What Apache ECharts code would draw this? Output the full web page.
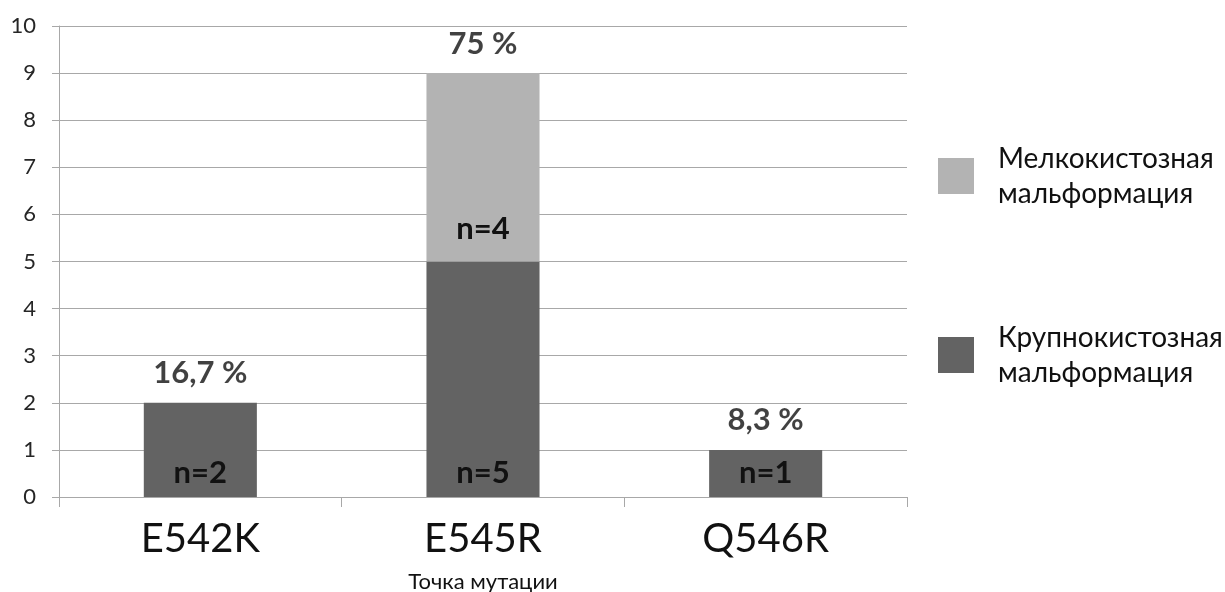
<!DOCTYPE html>
<html>
<head>
<meta charset="utf-8">
<script src="https://cdn.jsdelivr.net/npm/echarts@6/dist/echarts.min.js"></script>
<style>
  html, body { margin: 0; padding: 0; background: #fff; }
  #chart { width: 1225px; height: 592px; }
</style>
</head>
<body>
<div id="chart"></div>
<script>
// Mutation points and counts per malformation type
const categories = ['E542K', 'E545R', 'Q546R'];
const largeCystic = [2, 5, 1];   // Крупнокистозная мальформация
const smallCystic = [0, 4, 0];   // Мелкокистозная мальформация
const shareLabels = ['16,7 %', '75 %', '8,3 %'];
const yTicks = [0, 10, 1];       // min, max, interval

const totals = categories.map((_, i) => largeCystic[i] + smallCystic[i]);

const FONT = 'Lato, "Open Sans", sans-serif';
const DARK = '#636363';
const LIGHT = '#b3b3b3';
const GRID = '#a8a8a8';
const INK = '#111111';

const countLabel = {
  show: true,
  position: 'insideBottom',
  distance: 9,
  fontFamily: FONT,
  fontSize: 31,
  fontWeight: 'bold',
  color: INK,
  formatter: p => p.value > 0 ? 'n=' + p.value : ''
};

const chart = echarts.init(document.getElementById('chart'));
chart.setOption({
  animation: false,
  textStyle: { fontFamily: FONT },
  grid: { left: 59, right: 318, top: 26, bottom: 95, outerBoundsMode: 'none' },
  legend: {
    orient: 'vertical',
    left: 938,
    top: 141,
    padding: 0,
    itemGap: 109,
    itemWidth: 36,
    itemHeight: 36,
    icon: 'rect',
    data: ['Мелкокистозная\nмальформация', 'Крупнокистозная\nмальформация'],
    textStyle: {
      fontFamily: FONT,
      fontSize: 28,
      color: INK,
      lineHeight: 35,
      padding: [0, 0, 0, 19]
    }
  },
  xAxis: {
    type: 'category',
    data: categories,
    name: 'Точка мутации',
    nameLocation: 'middle',
    nameGap: 74,
    nameTextStyle: { fontFamily: FONT, fontSize: 22, color: INK },
    axisLine: { lineStyle: { color: GRID, width: 1 } },
    axisTick: { show: true, length: 10, lineStyle: { color: GRID } },
    axisLabel: { fontFamily: FONT, fontSize: 40, color: INK, margin: 22 }
  },
  yAxis: {
    type: 'value',
    min: yTicks[0],
    max: yTicks[1],
    interval: yTicks[2],
    axisLine: { show: true, lineStyle: { color: GRID, width: 1 } },
    axisTick: { show: true, length: 7, lineStyle: { color: GRID } },
    splitLine: { lineStyle: { color: GRID, width: 1 } },
    axisLabel: { fontFamily: FONT, fontSize: 22, color: '#262626', margin: 23 }
  },
  series: [
    {
      name: 'Крупнокистозная\nмальформация',
      type: 'bar',
      stack: 'total',
      barWidth: '40%',
      itemStyle: { color: DARK },
      label: countLabel,
      data: largeCystic
    },
    {
      name: 'Мелкокистозная\nмальформация',
      type: 'bar',
      stack: 'total',
      barWidth: '40%',
      itemStyle: { color: LIGHT },
      label: Object.assign({}, countLabel, { distance: 17 }),
      data: smallCystic
    },
    {
      // share of each mutation point, placed above the stacked totals
      name: 'share',
      type: 'scatter',
      symbolSize: 0,
      silent: true,
      label: {
        show: true,
        position: 'top',
        distance: 14,
        fontFamily: FONT,
        fontSize: 31,
        fontWeight: 'bold',
        color: INK,
        formatter: p => shareLabels[p.dataIndex]
      },
      data: totals
    }
  ]
});
</script>
</body>
</html>
